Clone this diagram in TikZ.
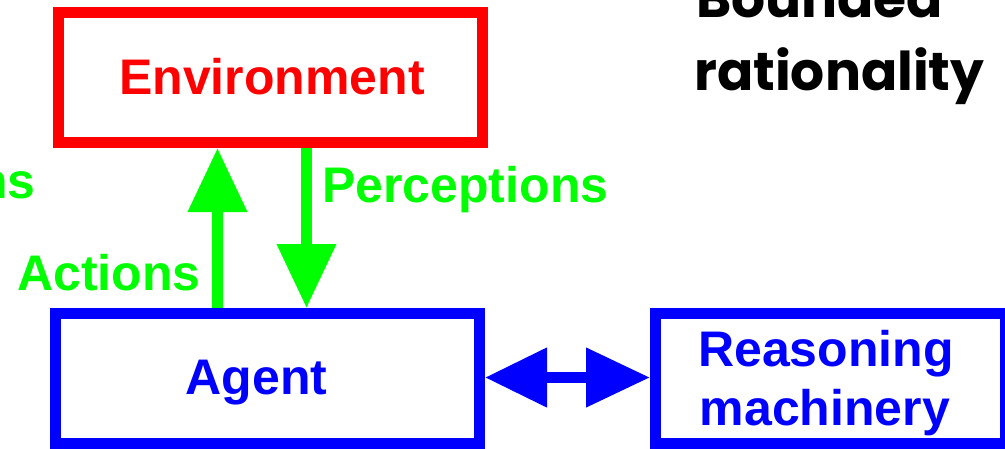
\documentclass[tikz,border=0pt]{standalone}
\usepackage{fontspec}
\setmainfont{Liberation Sans}
\newfontfamily\comicfont{Poppins}
\usetikzlibrary{arrows.meta}
\definecolor{envred}{RGB}{255,0,0}
\definecolor{actgreen}{RGB}{0,255,0}
\definecolor{agblue}{RGB}{0,0,255}
\tikzset{
  box/.style={draw, line width=11pt, rectangle, inner sep=0pt, fill=none},
  lbl/.style={inner sep=0pt, font=\fontsize{50}{59}\selectfont\bfseries},
  greenarrow/.style={draw=actgreen, line width=10.5pt,
    -{Triangle[length=64pt, width=57pt, fill=actgreen]}},
  bluearrow/.style={draw=agblue, line width=11pt,
    {Triangle[length=62pt, width=57pt, fill=agblue]}-{Triangle[length=64pt, width=57pt, fill=agblue]}},
  comic/.style={inner sep=0pt, font=\comicfont\fontsize{53.5}{60}\selectfont\bfseries}
}
\begin{document}
\begin{tikzpicture}[x=1pt,y=-1pt]
\useasboundingbox (0,0) rectangle (1005,448);
% boxes
\node[box, draw=envred, minimum width=423.5pt, minimum height=130pt] (env) at (270.25,77.5) {};
\node[box, draw=agblue, minimum width=424pt, minimum height=130pt] (agent) at (267.5,378.5) {};
\node[box, draw=agblue, minimum width=349.5pt, minimum height=130pt] (reason) at (830.25,378.5) {};
% box texts
\node[lbl, text=envred, anchor=base] (envtxt) at (272,94) {Environment};
\node[lbl, text=agblue, anchor=base] (agtxt) at (256.5,394) {Agent};
\node[lbl, text=agblue, anchor=base] (reatxt1) at (826,366) {Reasoning};
\node[lbl, text=agblue, anchor=base] (reatxt2) at (825,425) {machinery};
% arrow labels
\node[lbl, text=actgreen, anchor=base west] (actlbl) at (17,290) {Actions};
\node[lbl, text=actgreen, anchor=base west] (perlbl) at (322,202) {Perceptions};
\node[lbl, text=actgreen, anchor=base east] (nslbl) at (36,198) {ns};
% title
\node[comic, anchor=base west] (bounded) at (696,17) {Bounded};
\node[comic, anchor=base west] (rational) at (694,90) {rationality};
% arrows
\draw[greenarrow] (agent.north -| 217.5,0) -- (env.south -| 217.5,0);
\draw[greenarrow] (env.south -| 306.5,0) -- (agent.north -| 306.5,0);
\draw[bluearrow] (agent.east |- 0,377.5) -- (reason.west |- 0,377.5);
\end{tikzpicture}
\end{document}
